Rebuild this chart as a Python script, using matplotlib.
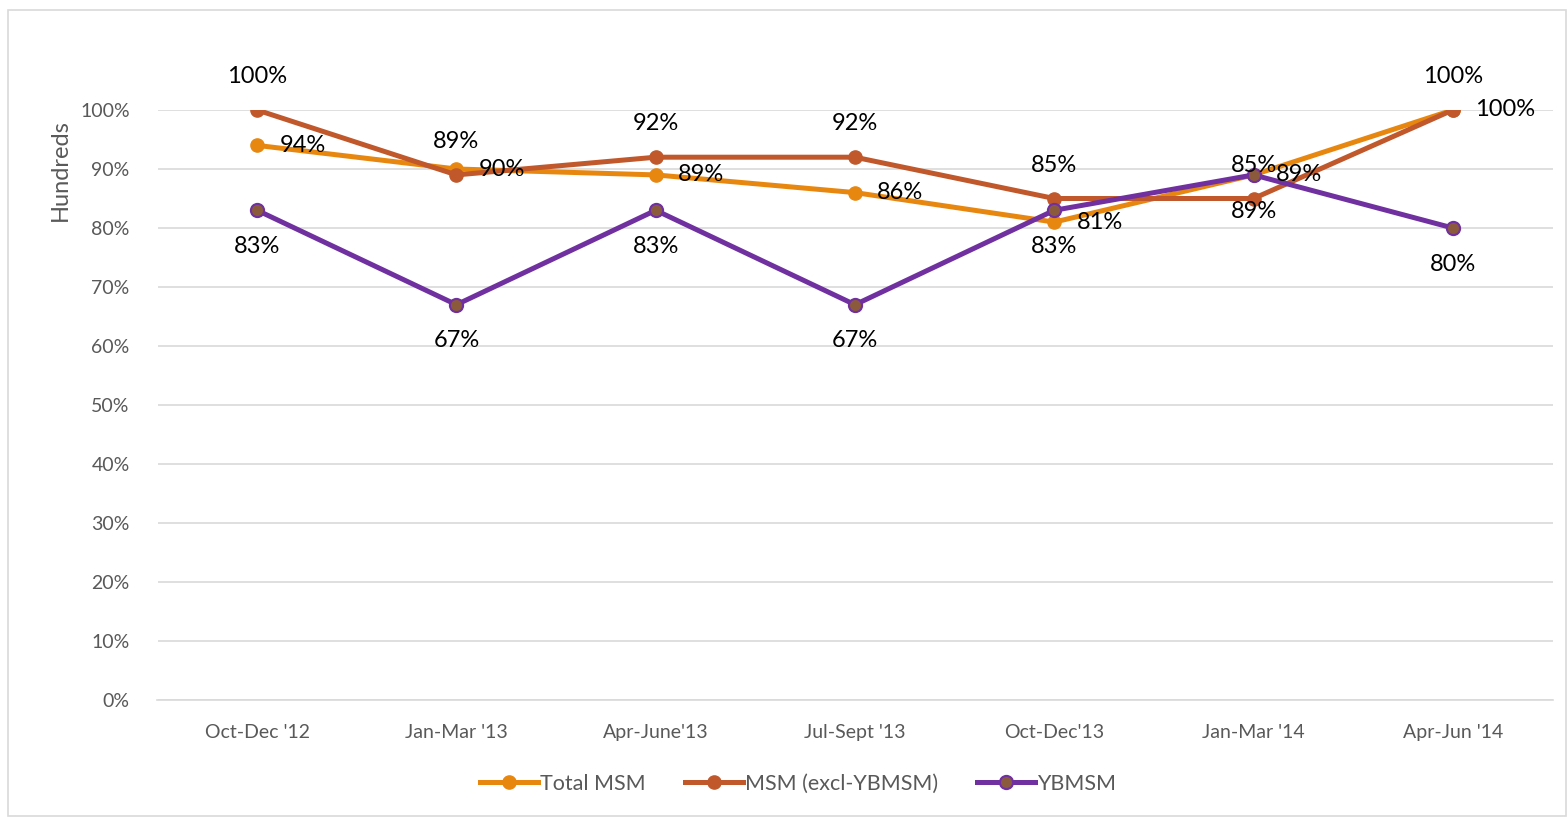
import matplotlib.pyplot as plt
import numpy as np

plt.rcParams['font.family'] = ['Lato', 'DejaVu Sans']

quarters = ["Oct-Dec '12", "Jan-Mar '13", "Apr-June'13", "Jul-Sept '13",
            "Oct-Dec'13", "Jan-Mar '14", "Apr-Jun '14"]
total_msm = [94, 90, 89, 86, 81, 89, 100]
msm_excl = [100, 89, 92, 92, 85, 85, 100]
ybmsm = [83, 67, 83, 67, 83, 89, 80]

c_total = '#E8870F'
c_excl = '#C0582B'
c_yb = '#7030A0'
c_ybfill = '#8B5A3C'
gray = '#595959'

fig = plt.figure(figsize=(15.67, 8.19), dpi=100)
ax = fig.add_axes([157.5 / 1567, 1 - 700 / 819, 1395 / 1567, 590 / 819])

x = np.arange(len(quarters))
lw = 3.6
ms = 9.5

ax.plot(x, np.array(total_msm) / 100, color=c_total, lw=lw, marker='o', ms=ms,
        label='Total MSM', zorder=3)
ax.plot(x, np.array(msm_excl) / 100, color=c_excl, lw=lw, marker='o', ms=ms,
        label='MSM (excl-YBMSM)', zorder=4)
ax.plot(x, np.array(ybmsm) / 100, color=c_yb, lw=lw, marker='o', ms=ms,
        markerfacecolor=c_ybfill, markeredgecolor=c_yb, markeredgewidth=1.5,
        label='YBMSM', zorder=5)

# data labels
fs = 17
for i in range(len(x)):
    ax.annotate(f'{total_msm[i]}%', (x[i], total_msm[i] / 100), xytext=(16, 0),
                textcoords='offset points', ha='left', va='center', fontsize=fs,
                color='black', zorder=6)
    ax.annotate(f'{msm_excl[i]}%', (x[i], msm_excl[i] / 100), xytext=(0, 24),
                textcoords='offset points', ha='center', va='center', fontsize=fs,
                color='black', zorder=6)
    ax.annotate(f'{ybmsm[i]}%', (x[i], ybmsm[i] / 100), xytext=(0, -26),
                textcoords='offset points', ha='center', va='center', fontsize=fs,
                color='black', zorder=6)

ax.set_xlim(-0.5, len(x) - 0.5)
ax.set_ylim(0, 1.0)
ax.set_yticks(np.arange(0, 1.01, 0.1))
ax.set_yticklabels([f'{int(round(v * 100))}%' for v in np.arange(0, 1.01, 0.1)])
ax.set_xticks(x)
ax.set_xticklabels(quarters)
ax.tick_params(axis='both', length=0, labelsize=14, colors=gray)
ax.tick_params(axis='x', pad=17)
ax.tick_params(axis='y', pad=20)
ax.grid(axis='y', color='#D9D9D9', lw=1.2, zorder=0)
for s in ['top', 'right', 'left']:
    ax.spines[s].set_visible(False)
ax.spines['bottom'].set_color('#D9D9D9')
ax.spines['bottom'].set_linewidth(1.2)
ax.set_axisbelow(True)

fig.text(60 / 1567, 1 - 170 / 819, 'Hundreds', rotation=90, ha='center',
         va='center', fontsize=17, color=gray)

leg = fig.legend(loc='center', bbox_to_anchor=(798 / 1567, 1 - 784 / 819), ncol=3,
                 frameon=False, fontsize=15.5, handlelength=2.7, handletextpad=0.1,
                 columnspacing=1.8, labelcolor=gray)

# outer chart border
fig.patches.append(plt.Rectangle((8 / 1567, 1 - 816 / 819), 1 - 9 / 1567,
                                 (816 - 10) / 819, transform=fig.transFigure,
                                 fill=False, edgecolor='#D9D9D9', lw=1.2))

fig.savefig('out.png', dpi=100)
